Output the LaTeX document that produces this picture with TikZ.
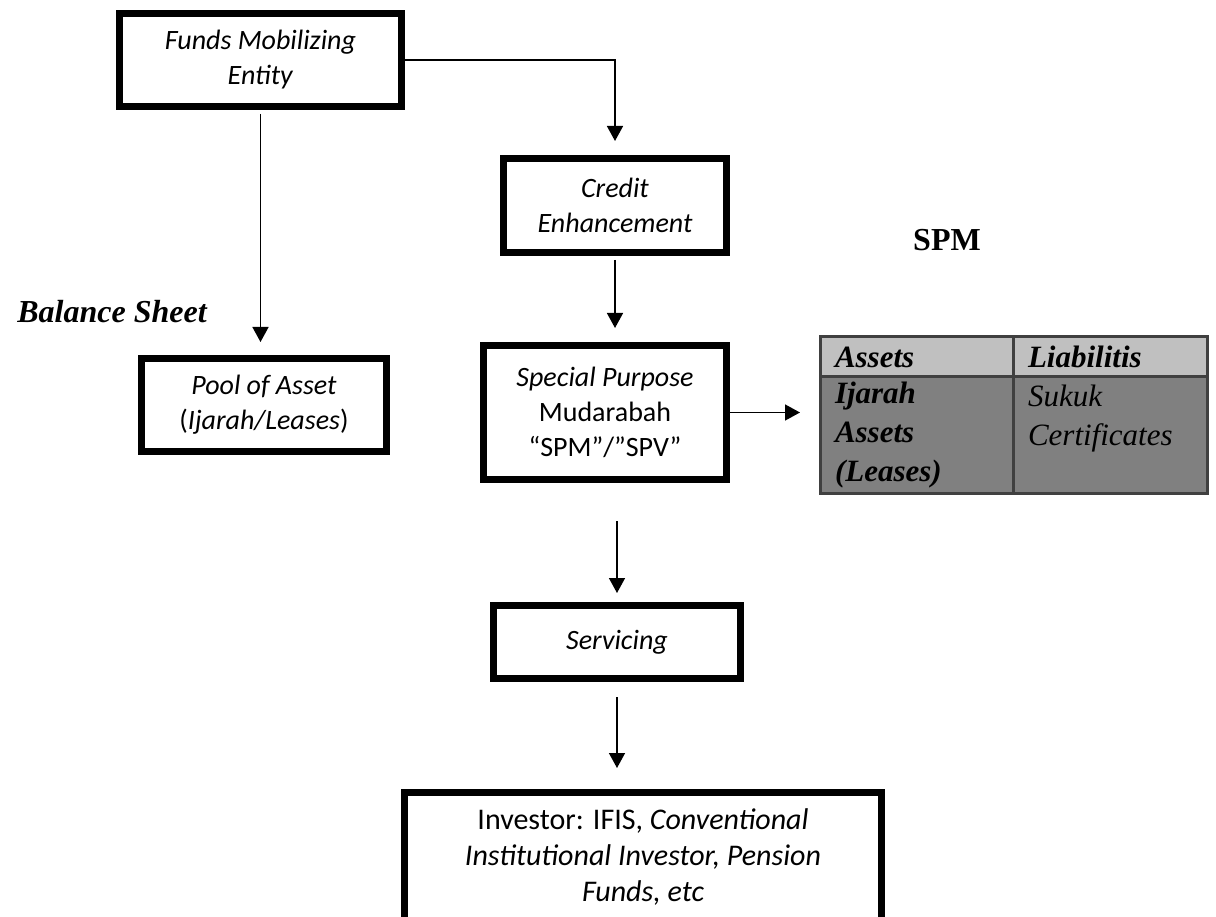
\documentclass[tikz,border=0pt]{standalone}
\usepackage{fontspec}
\setmainfont{Carlito}
\newfontfamily\serifface{Liberation Serif}
\usetikzlibrary{arrows.meta,calc}
\definecolor{hdrgray}{HTML}{C0C0C0}
\definecolor{bodygray}{HTML}{808080}
\definecolor{rulegray}{HTML}{404040}
\begin{document}
\begin{tikzpicture}[x=1pt,y=-1pt,
  flowbox/.style={draw, line width=7pt, inner sep=0pt, align=center,
    font=\fontsize{28}{35}\selectfont},
  flowarrow/.style={line width=1.5pt, -{Triangle[width=16pt,length=15pt]}},
  cell/.style={draw=rulegray, line width=3pt, outer sep=0pt, inner xsep=15pt,
    inner ysep=0pt, align=left, font=\serifface\fontsize{31}{39}\selectfont},
  heading/.style={font=\serifface\bfseries\fontsize{32}{38}\selectfont},
]
\useasboundingbox (0,0) rectangle (1216,917);
\clip (0,0) rectangle (1216,917);

% flow boxes
\node[flowbox, minimum width=282pt, minimum height=93pt] (fme) at (260.5,60)
  {\textit{Funds Mobilizing}\\\textit{Entity}};
\node[flowbox, minimum width=223pt, minimum height=94pt] (cred) at (615,205.5)
  {\textit{Credit}\\\textit{Enhancement}};
\node[flowbox, minimum width=245pt, minimum height=93pt] (pool) at (264,405)
  {\textit{Pool of Asset}\\(\textit{Ijarah/Leases})};
\node[flowbox, minimum width=243pt, minimum height=134pt] (sp) at (605,412.5)
  {\textit{Special Purpose}\\Mudarabah\\“SPM”/”SPV”};
\node[flowbox, minimum width=247pt, minimum height=73pt] (serv) at (617,642)
  {\textit{Servicing}};
\node[flowbox, minimum width=477pt, minimum height=129pt,
  font=\fontsize{30}{36}\selectfont] (inv) at (643,857)
  {Investor: IFIS, \textit{Conventional}\\\textit{Institutional Investor, Pension}\\\textit{Funds, etc}};

% labels
\node[heading, font=\serifface\bfseries\itshape\fontsize{32}{38}\selectfont] (bs) at (112,312) {Balance Sheet};
\node[heading] (spm) at (947,240) {SPM};

% SPM balance sheet table
\node[cell, fill=hdrgray, minimum width=193pt, minimum height=40pt, text width=163pt,
  font=\serifface\bfseries\itshape\fontsize{31}{39}\selectfont] (ha) at (916.5,357) {Assets};
\node[cell, fill=hdrgray, minimum width=194pt, minimum height=40pt, text width=164pt,
  font=\serifface\bfseries\itshape\fontsize{31}{39}\selectfont] (hb) at (1110,357) {Liabilitis};
\node[cell, fill=bodygray, minimum width=193pt, minimum height=116pt, text width=163pt,
  font=\serifface\bfseries\itshape\fontsize{31}{39}\selectfont] (ba) at (916.5,435)
  {Ijarah\\Assets\\(Leases)};
\node[cell, fill=bodygray, minimum width=194pt, minimum height=116pt, text width=164pt,
  font=\serifface\itshape\fontsize{31}{39}\selectfont] (bb) at (1110,435)
  {Sukuk\\Certificates\\\mbox{}};

% connectors
\draw[flowarrow, shorten >=14pt] (fme.east) -| (cred.north);
\draw[flowarrow, shorten <=4pt, shorten >=13pt] (fme.south) -- (fme.south |- pool.north);
\draw[flowarrow, shorten <=4pt, shorten >=14pt] (cred.south) -- (cred.south |- sp.north);
\draw[flowarrow, shorten >=20pt] (sp.east) -- (sp.east -| ha.west);
\draw[flowarrow, shorten <=38pt, shorten >=9pt] (sp.south -| serv.north) -- (serv.north);
\draw[flowarrow, shorten <=15pt, shorten >=21pt] (serv.south) -- (serv.south |- inv.north);
\end{tikzpicture}
\end{document}
